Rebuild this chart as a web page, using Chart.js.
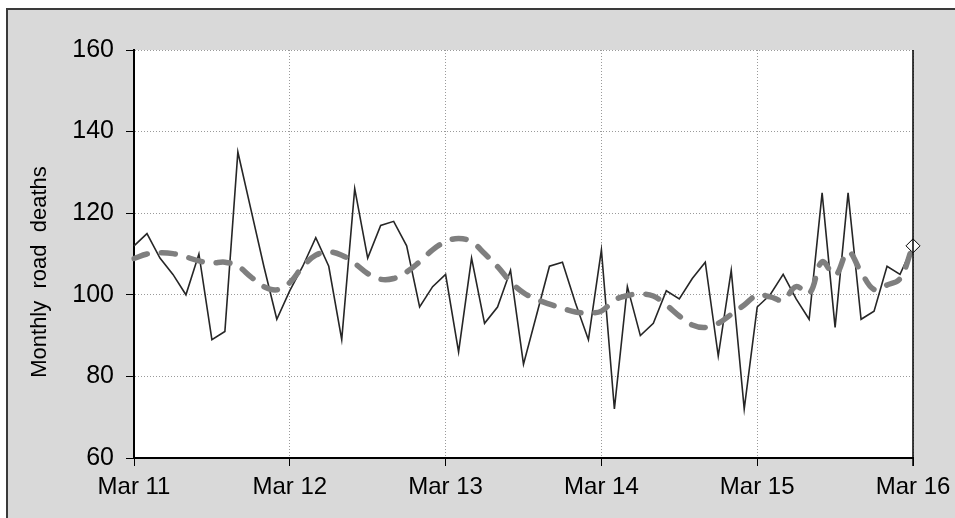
<!DOCTYPE html>
<html lang="en">
<head>
  <meta charset="UTF-8" />
  <title>Monthly road deaths</title>
  <script src="https://cdn.jsdelivr.net/npm/chart.js"></script>
  <style>
    html, body { margin: 0; padding: 0; background: #fff; overflow: hidden; }
    #panel {
      position: absolute; left: 6px; top: 8px; width: 960px; height: 520px;
      background: #d9d9d9; border-left: 2px solid #3a3a3a; border-top: 2px solid #3a3a3a;
    }
    #wrap { position: absolute; left: 0; top: 0; width: 955px; height: 518px; }
  </style>
</head>
<body>
  <div id="panel"></div>
  <div id="wrap"><canvas id="roadChart" width="955" height="518"></canvas></div>

  <script>
    // tick labels on the time axis (one per year)
    const yearTicks = ['Mar 11', 'Mar 12', 'Mar 13', 'Mar 14', 'Mar 15', 'Mar 16'];
    const monthNames = ['Mar', 'Apr', 'May', 'Jun', 'Jul', 'Aug', 'Sep', 'Oct', 'Nov', 'Dec', 'Jan', 'Feb'];

    // monthly road deaths, Mar 11 .. Mar 16
    const deaths = [
      112, 115, 109, 105, 100, 110, 89, 91, 135, 121, 107, 94,
      101, 107, 114, 107, 89, 126, 109, 117, 118, 112, 97, 102,
      105, 86, 109, 93, 97, 106, 83, 95, 107, 108, 98, 89,
      111, 72, 102, 90, 93, 101, 99, 104, 108, 85, 106, 72,
      97, 100, 105, 99, 94, 125, 92, 125, 94, 96, 107, 105, 112
    ];

    // smoothed trend (dashed grey)
    const trend = [
      108.9, 110, 110.3, 110.1, 109.3, 108.3, 107.8, 108, 107, 104.4, 102, 101.2,
      103, 106.9, 109.7, 110.5, 109.7, 107.7, 105.2, 103.8, 104, 105.6, 108.1, 111,
      113, 113.8, 113, 110.1, 106.9, 103.2, 100.5, 98.9, 97.7, 96.7, 95.8, 95.6,
      96, 98.7, 99.8, 100.2, 99.7, 97.5, 94.8, 92.6, 92, 93, 95.2, 97.5,
      99.9, 99.5, 98.7, 102, 100.3, 108.1, 104.8, 110.5, 105.6, 101.3, 102.4, 104, 112.2
    ];

    // month labels for the category axis
    const labels = deaths.map((d, i) => {
      const m = i % 12;
      const yr = 11 + Math.floor((i + 2) / 12);
      return monthNames[m] + ' ' + yr;
    });

    const FONT = "'Liberation Sans', Arial, sans-serif";
    const lastIdx = deaths.length - 1;

    // white plot area, right edge of plot, rotated axis title
    const extras = {
      id: 'extras',
      beforeDraw(chart) {
        const { ctx, chartArea: a } = chart;
        ctx.save();
        ctx.fillStyle = '#fff';
        ctx.fillRect(a.left, a.top, a.right - a.left, a.bottom - a.top);
        ctx.restore();
      },
      afterDatasetsDraw(chart) {
        const { ctx, chartArea: a } = chart;
        ctx.save();
        ctx.strokeStyle = '#000';
        ctx.lineWidth = 1.5;
        ctx.beginPath();
        ctx.moveTo(a.right, a.top);
        ctx.lineTo(a.right, a.bottom + 8);
        ctx.stroke();
        ctx.restore();
      },
      afterDraw(chart) {
        const { ctx } = chart;
        ctx.save();
        ctx.translate(40, 272);
        ctx.rotate(-Math.PI / 2);
        ctx.fillStyle = '#000';
        ctx.font = '22px ' + FONT;
        ctx.textAlign = 'center';
        ctx.textBaseline = 'middle';
        ctx.fillText('Monthly  road  deaths', 0, 0);
        ctx.restore();
      }
    };

    const ctx = document.getElementById('roadChart').getContext('2d');
    new Chart(ctx, {
      type: 'line',
      data: {
        labels: labels,
        datasets: [
          {
            label: 'Trend',
            data: trend,
            borderColor: '#7f7f7f',
            borderWidth: 5.5,
            borderDash: [14, 14],
            borderCapStyle: 'round',
            tension: 0.4,
            pointRadius: 0,
            fill: false,
            order: 0
          },
          {
            label: 'Road deaths',
            data: deaths,
            borderColor: '#262626',
            borderWidth: 1.6,
            tension: 0,
            pointStyle: 'rectRot',
            pointRadius: c => c.dataIndex === lastIdx ? 7 : 0,
            pointBackgroundColor: '#fff',
            pointBorderColor: '#000',
            pointBorderWidth: 1,
            clip: false,
            fill: false,
            order: 1
          }
        ]
      },
      options: {
        responsive: false,
        animation: false,
        events: [],
        layout: { padding: { top: 50, right: 42, left: 0, bottom: 0 } },
        plugins: { legend: { display: false }, tooltip: { enabled: false } },
        scales: {
          x: {
            type: 'category',
            offset: false,
            afterFit: s => { s.height = 60; s.paddingLeft = 0; s.paddingRight = 0; },
            border: { display: true, color: '#000', width: 2, dash: [1, 2] },
            grid: {
              color: c => (c.index % 12 === 0 && c.index > 0) ? '#9a9a9a' : 'rgba(0,0,0,0)',
              tickColor: c => c.index % 12 === 0 ? '#000' : 'rgba(0,0,0,0)',
              tickLength: 8,
              tickBorderDash: [],
              lineWidth: 1
            },
            ticks: {
              autoSkip: false,
              maxRotation: 0,
              padding: 7,
              color: '#000',
              font: { family: FONT, size: 24 },
              callback: (v, i) => i % 12 === 0 ? yearTicks[i / 12] : ''
            }
          },
          y: {
            min: 60,
            max: 160,
            afterFit: s => { s.width = 134; },
            border: { display: true, color: '#000', width: 2, dash: [1, 2] },
            grid: {
              color: c => c.tick.value === 60 ? 'rgba(0,0,0,0)' : '#9a9a9a',
              tickColor: '#000',
              tickLength: 8,
              tickBorderDash: [],
              lineWidth: 1
            },
            ticks: {
              stepSize: 20,
              padding: 12,
              color: '#000',
              font: { family: FONT, size: 25 }
            }
          }
        }
      },
      plugins: [extras]
    });
  </script>
</body>
</html>
